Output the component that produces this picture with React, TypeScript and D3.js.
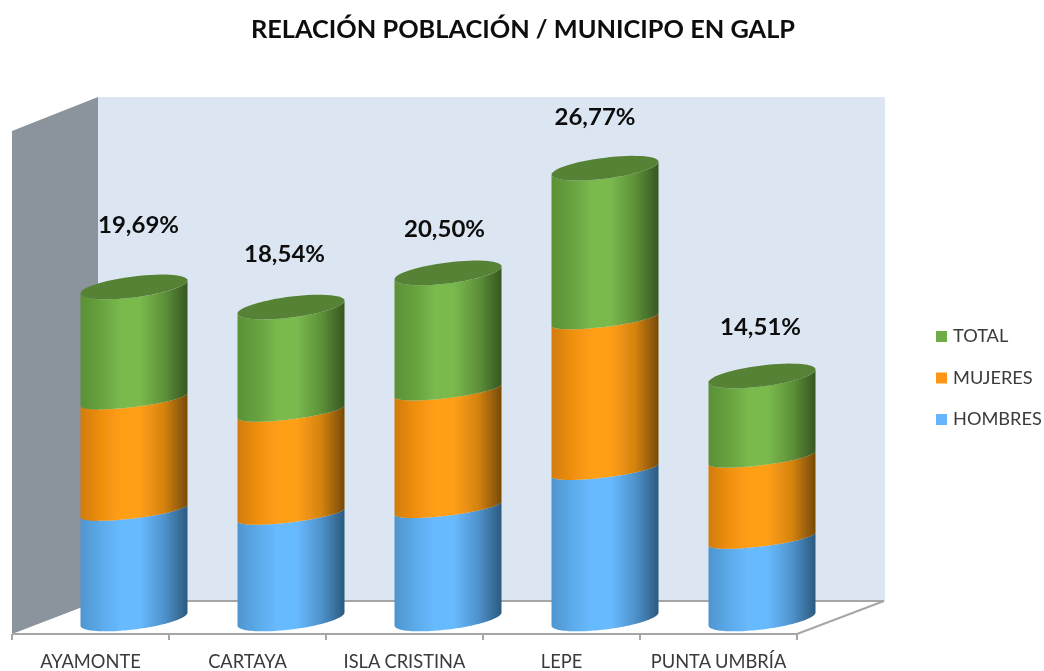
import React from "react";
import * as d3 from "d3";

const categories = ["AYAMONTE", "CARTAYA", "ISLA CRISTINA", "LEPE", "PUNTA UMBRÍA"];
const seriesNames = ["HOMBRES", "MUJERES", "TOTAL"];
const hombres = [19.3, 18.6, 19.8, 26.6, 14.3];
const mujeres = [19.9, 18.4, 21.0, 26.9, 14.5];
const total = [20.1, 18.7, 21.0, 27.0, 14.6];
const labels = ["19,69%", "18,54%", "20,50%", "26,77%", "14,51%"];
const yMax = 90;

// layout
const W = 1044, H = 671;
const left = 12, right = 797, depthX = 86, depthY = 33;
const floorFront = 634, floorBack = 601, wallTop = 97;
const barWidth = 107, skew = 6.5, minor = 10.5, minorSeam = 7.5;
const barShift = 0.5;
const baseY = 619;
const pxPerUnit = 5.6;
const labelDx = [4.5, -6.5, -3.5, -10, -1.5];
const labelDy = [54, 45, 36, 43, 41];

const palette = [
  { stops: ["#4f95cf", "#5cabea", "#68baff", "#68baff", "#4f93cc", "#2b5a80"], legend: "#66b4fc" },
  { stops: ["#d17c0c", "#f0900f", "#ff9f18", "#ff9f18", "#d5830f", "#774a05"], legend: "#ff9512" },
  { stops: ["#5a9136", "#68a23f", "#7aba4e", "#7aba4e", "#5e9239", "#365621"], legend: "#70ad47" },
];
const stopOffsets = [0, 0.2, 0.38, 0.55, 0.78, 1];
const capColor = "#568236";

const x = d3.scaleBand<string>().domain(categories).range([left, right]);
const y = d3.scaleLinear().domain([0, yMax]).range([baseY, baseY - yMax * pxPerUnit]);
const stacked = [hombres, mujeres, total];

const ell = d3.line<[number, number]>();
const arc = (cx: number, cy: number, t0: number, t1: number, b: number) => {
  const a = barWidth / 2;
  const ts = d3.range(0, 61).map((i) => t0 + ((t1 - t0) * i) / 60);
  return ts.map((t) => [cx + a * Math.cos(t), cy - skew * Math.cos(t) + b * Math.sin(t)] as [number, number]);
};

export default function App() {
  return (
    <svg width={W} height={H} viewBox={`0 0 ${W} ${H}`} style={{ position: "absolute", left: 0, top: 0, background: "#fff" }} fontFamily="Lato, sans-serif">
      <defs>
        {palette.map((p, i) => (
          <linearGradient key={i} id={`g${i}`} x1="0" x2="1" y1="0" y2="0">
            {p.stops.map((c, j) => (
              <stop key={j} offset={stopOffsets[j]} stopColor={c} />
            ))}
          </linearGradient>
        ))}
        <filter id="soft" x="-2%" y="-2%" width="104%" height="104%">
          <feGaussianBlur stdDeviation="0.45" />
        </filter>
      </defs>
      <g filter="url(#soft)">
        <text x={523} y={38} textAnchor="middle" fontSize={24.5} fontWeight={700} fill="#0d0d0d" textLength={544} lengthAdjust="spacingAndGlyphs">
          RELACIÓN POBLACIÓN / MUNICIPO EN GALP
        </text>

        {/* walls */}
        <rect x={left + depthX} y={wallTop} width={right + 2 - left} height={floorBack - wallTop} fill="#dce6f2" />
        <polygon points={`${left},${wallTop + depthY + 1} ${left + depthX},${wallTop} ${left + depthX},${floorBack} ${left},${floorFront}`} fill="#8b939c" />
        <path d={`M${left + depthX},${floorBack}H${right + depthX + 1}L${right},${floorFront}H${left}`} fill="none" stroke="#a6a6a6" strokeWidth={2} />
        {[...categories.map((c) => x(c)!), right].map((t, i) => (
          <line key={i} x1={t} x2={t} y1={floorFront} y2={floorFront + 6} stroke="#a6a6a6" strokeWidth={2} />
        ))}

        {/* cylinders */}
        {categories.map((c, i) => {
          const cx = x(c)! + x.bandwidth() / 2 + depthX / 2 + barShift;
          let cum = 0;
          const segs = stacked.map((s, k) => {
            const y0 = y(cum);
            cum += s[i];
            const y1 = y(cum);
            const pts = [
              ...arc(cx, y0, Math.PI, 0, k === 0 ? minor : minorSeam),
              ...arc(cx, y1, 0, Math.PI, k === 2 ? minor : minorSeam),
            ];
            return <path key={k} d={ell(pts)! + "Z"} fill={`url(#g${k})`} />;
          });
          const topY = y(cum);
          const cap = arc(cx, topY, 0, Math.PI * 2, minor);
          return (
            <g key={c}>
              {segs}
              <path d={ell(cap)! + "Z"} fill={capColor} />
              <text x={cx + labelDx[i]} y={topY - labelDy[i]} textAnchor="middle" fontSize={23} fontWeight={700} fill="#0d0d0d" textLength={81} lengthAdjust="spacingAndGlyphs">
                {labels[i]}
              </text>
            </g>
          );
        })}

        {/* category labels */}
        {categories.map((c) => (
          <text key={c} x={x(c)! + x.bandwidth() / 2} y={668} textAnchor="middle" fontSize={18.3} fill="#3a3a3a">
            {c}
          </text>
        ))}

        {/* legend */}
        {seriesNames.map((_, i) => {
          const k = 2 - i;
          const yy = 331 + i * 41.5;
          return (
            <g key={k}>
              <rect x={936} y={yy} width={11} height={11} fill={palette[k].legend} />
              <text x={953} y={yy + 11} fontSize={18.2} fill="#3a3a3a">
                {seriesNames[k]}
              </text>
            </g>
          );
        })}
      </g>
    </svg>
  );
}
